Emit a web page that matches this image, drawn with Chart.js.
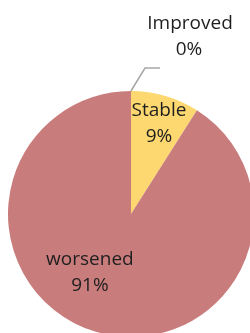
<!DOCTYPE html>
<html>
<head>
<meta charset="utf-8">
<script src="https://cdn.jsdelivr.net/npm/chart.js@4/dist/chart.umd.min.js"></script>
<style>
    html, body { margin: 0; padding: 0; background: #ffffff; overflow: hidden; width: 250px; height: 333px; }
    #wrap { position: absolute; left: 0; top: 0; width: 262px; height: 428px; }
</style>
</head>
<body>
<div id="wrap"><canvas id="pieChart"></canvas></div>
<script>
const categories = ['Improved', 'Stable', 'worsened'];
const shares = [0, 9, 91];
const sliceColors = ['#8fb3d9', '#fdd870', '#c97c7c'];

// where each label sits: fraction of radius, angle tweak in degrees
const labelSpots = [
    null,
    { r: 0.77, turn: 1 },
    { r: 0.58, turn: 19 }
];

const pieLabels = {
    id: 'pieLabels',
    afterDatasetsDraw(chart) {
        const ctx = chart.ctx;
        const arcs = chart.getDatasetMeta(0).data;
        ctx.save();
        ctx.font = '19px "Open Sans", sans-serif';
        ctx.fillStyle = '#1e1e1e';
        ctx.textAlign = 'center';
        ctx.textBaseline = 'middle';
        arcs.forEach(function(arc, i) {
            const p = arc.getProps(['x', 'y', 'startAngle', 'endAngle', 'outerRadius']);
            const text = [categories[i], shares[i] + '%'];
            if (shares[i] === 0) {
                // leader line for the empty slice
                const sx = p.x + Math.cos(p.startAngle) * p.outerRadius;
                const sy = p.y + Math.sin(p.startAngle) * p.outerRadius;
                ctx.strokeStyle = '#a6a6a6';
                ctx.lineWidth = 1.5;
                ctx.beginPath();
                ctx.moveTo(sx, sy);
                ctx.lineTo(sx + 14, sy - 23);
                ctx.lineTo(sx + 29, sy - 23);
                ctx.stroke();
                ctx.fillText(text[0], sx + 59, sy - 67);
                ctx.fillText(text[1], sx + 58, sy - 41);
                return;
            }
            const spot = labelSpots[i];
            const mid = (p.startAngle + p.endAngle) / 2 + spot.turn * Math.PI / 180;
            const lx = p.x + Math.cos(mid) * p.outerRadius * spot.r;
            const ly = p.y + Math.sin(mid) * p.outerRadius * spot.r;
            ctx.fillText(text[0], lx, ly - 13);
            ctx.fillText(text[1], lx, ly + 13);
        });
        ctx.restore();
    }
};

new Chart(document.getElementById('pieChart').getContext('2d'), {
    type: 'pie',
    data: {
        labels: categories,
        datasets: [{
            data: shares,
            backgroundColor: sliceColors,
            borderWidth: 0
        }]
    },
    options: {
        responsive: true,
        maintainAspectRatio: false,
        animation: false,
        layout: { padding: { left: 8, right: 8, top: 91, bottom: 91 } },
        plugins: {
            legend: { display: false },
            tooltip: { enabled: false }
        }
    },
    plugins: [pieLabels]
});
</script>
</body>
</html>
